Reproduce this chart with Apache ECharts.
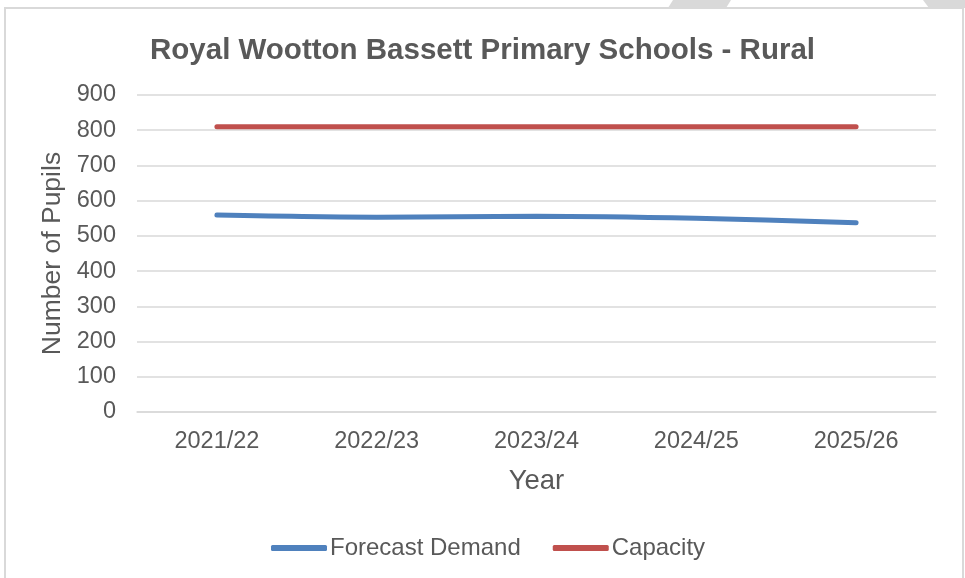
<!DOCTYPE html>
<html>
<head>
<meta charset="utf-8">
<script src="https://cdn.jsdelivr.net/npm/echarts@6/dist/echarts.min.js"></script>
<style>html,body{margin:0;padding:0;background:#fff;}#c{width:965px;height:578px;}</style>
</head>
<body>
<div id="c"></div>
<script>
const categories = ['2021/22', '2022/23', '2023/24', '2024/25', '2025/26'];
const forecastDemand = [559, 553, 556, 550, 537];
const capacity = [810, 810, 810, 810, 810];
const yTicks = {min: 0, max: 900, interval: 100};

const txt = '#595959';
const font = 'Liberation Sans, Arial, sans-serif';
const chart = echarts.init(document.getElementById('c'), null, {renderer: 'canvas'});
chart.setOption({
  animation: false,
  backgroundColor: '#fff',
  textStyle: {fontFamily: font, color: txt},
  graphic: [
    {type: 'polygon', shape: {points: [[673,0],[731,0],[726,8],[668,8]]}, style: {fill: '#d9d9d9'}, z: -1},
    {type: 'polygon', shape: {points: [[923,0],[965,0],[965,8],[929,8]]}, style: {fill: '#d9d9d9'}, z: -1},
    {type: 'rect', shape: {x: 5, y: 8, width: 958, height: 575}, style: {fill: 'none', stroke: '#d9d9d9', lineWidth: 2}, z: 0}
  ],
  title: {
    text: 'Royal Wootton Bassett Primary Schools - Rural',
    left: 'center', top: 31,
    textStyle: {fontFamily: font, fontSize: 29.5, fontWeight: 'bold', color: txt}
  },
  legend: {
    bottom: 13, left: 266,
    itemWidth: 56, itemHeight: 6, itemGap: 32,
    icon: 'roundRect',
    textStyle: {fontFamily: font, fontSize: 24, color: txt, padding: [0,0,0,-2]},
    data: ['Forecast Demand', 'Capacity']
  },
  grid: {left: 137, right: 29, top: 95, bottom: 166, containLabel: false},
  xAxis: {
    type: 'category', data: categories, boundaryGap: true,
    name: 'Year', nameLocation: 'middle', nameGap: 55,
    nameTextStyle: {fontFamily: font, fontSize: 27.5, color: txt},
    axisLine: {lineStyle: {color: '#d9d9d9', width: 1.5}},
    axisTick: {show: false},
    axisLabel: {fontFamily: font, fontSize: 23.5, color: txt, margin: 18}
  },
  yAxis: {
    type: 'value', min: yTicks.min, max: yTicks.max, interval: yTicks.interval,
    name: 'Number of Pupils', nameLocation: 'middle', nameGap: 70, nameRotate: 90,
    nameTextStyle: {fontFamily: font, fontSize: 26.5, color: txt},
    axisLine: {show: false}, axisTick: {show: false},
    axisLabel: {fontFamily: font, fontSize: 23.5, color: txt, margin: 21},
    splitLine: {lineStyle: {color: '#d9d9d9', width: 1.5}}
  },
  series: [
    {name: 'Forecast Demand', type: 'line', data: forecastDemand, smooth: 0.3, showSymbol: false, symbol: 'none',
     lineStyle: {color: '#4f81bd', width: 5, cap: 'round'}, itemStyle: {color: '#4f81bd'}},
    {name: 'Capacity', type: 'line', data: capacity, showSymbol: false, symbol: 'none',
     lineStyle: {color: '#c0504d', width: 5, cap: 'round'}, itemStyle: {color: '#c0504d'}}
  ]
});
</script>
</body>
</html>
